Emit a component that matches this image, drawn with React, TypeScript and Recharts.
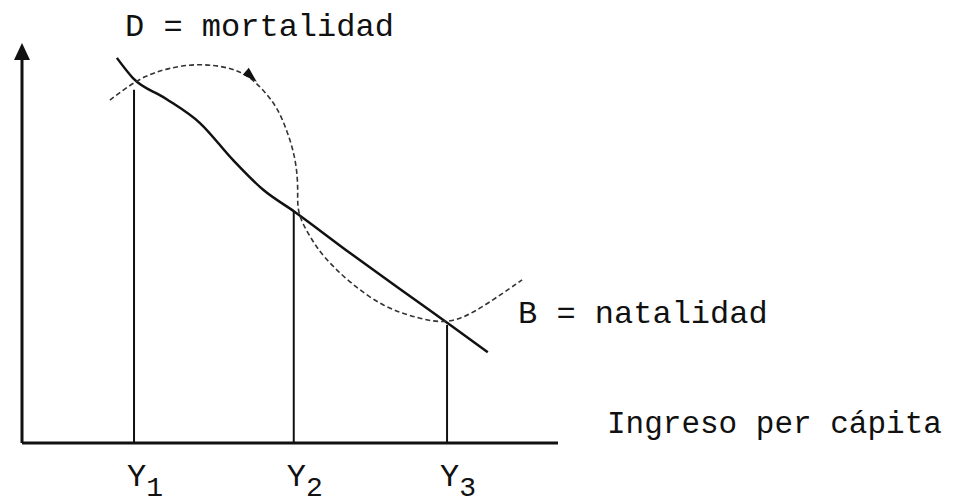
import { ComposedChart, Line, XAxis, YAxis, ReferenceLine, ReferenceDot } from 'recharts';

// income (0-100) vs rate (0-100)
const MORTALITY = [
  { x: 17.7, y: 97.5 },
  { x: 20.7, y: 92.4 },
  { x: 26.7, y: 87.3 },
  { x: 33.2, y: 81.0 },
  { x: 39.4, y: 71.6 },
  { x: 45.0, y: 64.1 },
  { x: 50.9, y: 58.5 },
  { x: 61.2, y: 48.1 },
  { x: 70.5, y: 39.0 },
  { x: 79.9, y: 29.9 },
  { x: 86.9, y: 23.0 },
];

const NATALITY = [
  { x: 16.4, y: 86.8 },
  { x: 19.6, y: 90.1 },
  { x: 22.9, y: 92.9 },
  { x: 27.1, y: 94.9 },
  { x: 33.2, y: 96.2 },
  { x: 39.4, y: 94.9 },
  { x: 42.5, y: 92.7 },
  { x: 45.0, y: 89.4 },
  { x: 47.6, y: 85.1 },
  { x: 49.4, y: 79.2 },
  { x: 50.6, y: 74.2 },
  { x: 51.3, y: 69.1 },
  { x: 51.5, y: 63.5 },
  { x: 51.3, y: 58.2 },
  { x: 53.7, y: 52.2 },
  { x: 56.2, y: 47.1 },
  { x: 61.2, y: 40.5 },
  { x: 67.4, y: 34.4 },
  { x: 73.7, y: 31.6 },
  { x: 79.9, y: 29.9 },
  { x: 86.0, y: 34.4 },
  { x: 93.3, y: 41.3 },
];

const INCOME_LEVELS = [20.9, 50.7, 79.3];
const LEVEL_SUBSCRIPTS = ['1', '2', '3'];
const LEVEL_TOPS = [89.4, 58.5, 29.9];

const ARROW_INDEX = 6;
const FONT = '"Liberation Mono", "DejaVu Sans Mono", monospace';

const LevelTick = ({ x, y, payload }: any) => {
  const i = INCOME_LEVELS.indexOf(payload.value);
  return (
    <text x={x - 7} y={y + 35} fontFamily={FONT} fontSize={32} fill="#111">
      Y
      <tspan dy={10} fontSize={28}>{LEVEL_SUBSCRIPTS[i]}</tspan>
    </text>
  );
};

const ArrowDot = (props: any) => {
  const { cx, cy, index } = props;
  if (index !== ARROW_INDEX) return <g key={index} />;
  return (
    <path
      key={index}
      d={`M${cx + 7},${cy + 5} L${cx - 7},${cy - 2} L${cx - 1},${cy - 9} Z`}
      fill="#111"
    />
  );
};

const AxisArrow = ({ cx, cy }: any) => (
  <path d={`M${cx},${cy - 5} L${cx - 8},${cy + 12} L${cx + 8},${cy + 12} Z`} fill="#111" />
);

export default function App() {
  return (
    <div style={{ position: 'absolute', left: 0, top: 0, background: '#fff' }}>
      <ComposedChart width={955} height={503} margin={{ top: 48, right: 397, bottom: 20, left: 22 }}>
        <XAxis
          type="number"
          dataKey="x"
          domain={[0, 100]}
          ticks={INCOME_LEVELS}
          tick={<LevelTick />}
          tickLine={false}
          axisLine={{ stroke: '#111', strokeWidth: 3 }}
          height={40}
          allowDataOverflow
        />
        <YAxis type="number" domain={[0, 100]} hide allowDataOverflow />
        <ReferenceLine
          segment={[{ x: 0, y: 0 }, { x: 0, y: 100 }]}
          stroke="#111"
          strokeWidth={3}
          ifOverflow="visible"
        />
        {INCOME_LEVELS.map((lx, i) => (
          <ReferenceLine
            key={lx}
            segment={[{ x: lx, y: 0 }, { x: lx, y: LEVEL_TOPS[i] }]}
            stroke="#111"
            strokeWidth={2}
            ifOverflow="visible"
          />
        ))}
        <Line
          data={MORTALITY}
          dataKey="y"
          type="monotone"
          stroke="#111"
          strokeWidth={2.5}
          dot={false}
          isAnimationActive={false}
        />
        <Line
          data={NATALITY}
          dataKey="y"
          type="basis"
          stroke="#333"
          strokeWidth={1.6}
          strokeDasharray="5 3"
          dot={<ArrowDot />}
          activeDot={false}
          isAnimationActive={false}
        />
        <ReferenceDot x={0} y={100} r={0} shape={<AxisArrow />} ifOverflow="visible" />
        <text x={125} y={36} fontFamily={FONT} fontSize={32} fill="#111">D = mortalidad</text>
        <text x={518} y={323} fontFamily={FONT} fontSize={32} fill="#111">B = natalidad</text>
        <text x={607} y={433} fontFamily={FONT} fontSize={31} fill="#111">Ingreso per cápita</text>
      </ComposedChart>
    </div>
  );
}
